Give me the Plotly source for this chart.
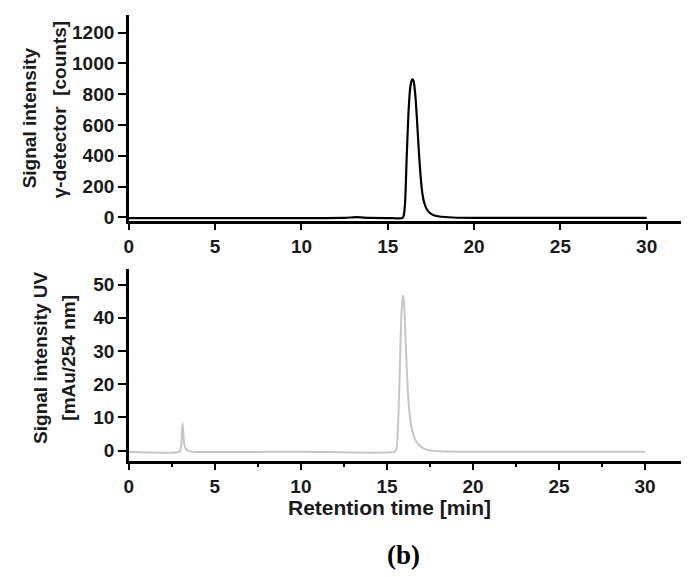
import plotly.graph_objects as go

# ---- data ----
gamma_time = [0, 5, 10, 12.5, 13.2, 13.9, 15.0, 15.85, 15.92, 16.0, 16.1, 16.2, 16.3, 16.4, 16.45,
              16.5, 16.6, 16.7, 16.8, 16.9, 17.0, 17.1, 17.25, 17.45, 17.7, 18.0, 18.5, 19.0, 20, 25, 30]
gamma_counts = [-4, -4, -4, -3, 2, -3, -4, -4, 10, 90, 400, 680, 840, 893, 896,
                885, 790, 620, 430, 270, 160, 100, 55, 28, 13, 6, 1, -2, -3, -3, -3]

uv_time = [0, 2.95, 3.03, 3.08, 3.12, 3.17, 3.22, 3.3, 3.45, 3.7, 10, 15.45, 15.55, 15.65, 15.75,
           15.85, 15.93, 16.0, 16.1, 16.2, 16.3, 16.45, 16.65, 16.9, 17.3, 18, 25, 30]
uv_mau = [-0.3, -0.3, 1.0, 5.0, 8.3, 5.0, 2.0, 0.6, 0.0, -0.3, -0.3, -0.3, 0.5, 8, 25,
          42, 46.7, 44, 31, 19, 12, 6.5, 3.2, 1.5, 0.3, -0.2, -0.3, -0.3]

x_ticks = [0, 5, 10, 15, 20, 25, 30]
gamma_ticks = [0, 200, 400, 600, 800, 1000, 1200]
uv_ticks = [0, 10, 20, 30, 40, 50]

W, H = 689, 577
def px(x):
    return x / W
def py(y):
    return 1 - y / H

FONT = "Liberation Sans, Arial, sans-serif"
TXT = "#1a1a1a"

fig = go.Figure()
fig.add_trace(go.Scatter(x=gamma_time, y=gamma_counts, mode="lines",
                         line=dict(color="#000000", width=2.2, shape="spline", smoothing=0.6),
                         xaxis="x", yaxis="y", showlegend=False))
fig.add_trace(go.Scatter(x=uv_time, y=uv_mau, mode="lines",
                         line=dict(color="#c6c6c6", width=2, shape="spline", smoothing=0.6),
                         xaxis="x2", yaxis="y2", showlegend=False))

tickfont = dict(family=FONT, size=19, color=TXT, weight="bold")
common = dict(showgrid=False, zeroline=False, showline=True, linecolor="#000000", linewidth=2.5,
              ticks="outside", tickwidth=2, tickcolor="#000000", tickfont=tickfont, mirror=False)

fig.update_layout(
    width=W, height=H,
    margin=dict(l=0, r=0, t=0, b=0),
    paper_bgcolor="white", plot_bgcolor="white",
    xaxis=dict(domain=[px(116.7), px(683)], anchor="y", range=[0, 32.57],
               tickvals=x_ticks, ticklen=7, **common),
    yaxis=dict(domain=[py(215.5), py(7)], anchor="x", range=[-20, 1315],
               tickvals=gamma_ticks, ticklen=8, **common),
    xaxis2=dict(domain=[px(116.7), px(680)], anchor="y2", range=[0, 32.5],
                tickvals=x_ticks, ticklen=7,
                minor=dict(dtick=2.5, tick0=0, ticks="outside", ticklen=4, tickwidth=2, tickcolor="#000000"),
                **common),
    yaxis2=dict(domain=[py(459), py(265)], anchor="x2", range=[-3, 54.6],
                tickvals=uv_ticks, ticklen=8, **common),
)

title_font = dict(family=FONT, size=19, color=TXT, weight="bold")
annots = [
    ("Signal intensity", 17, 111),
    ("\u03b3-detector  [counts]", 47, 103),
    ("Signal intensity UV", 27, 355),
    ("[mAu/254 nm]", 55, 355),
]
for text, x, y in annots:
    fig.add_annotation(text=text, xref="paper", yref="paper", x=px(x), y=py(y),
                       xanchor="center", yanchor="middle", textangle=-90, showarrow=False,
                       font=title_font)

fig.add_annotation(text="Retention time [min]", xref="paper", yref="paper", x=px(379), y=py(507),
                   xanchor="center", yanchor="middle", showarrow=False,
                   font=dict(family=FONT, size=21, color=TXT, weight="bold"))
fig.add_annotation(text="(b)", xref="paper", yref="paper", x=px(393), y=py(555),
                   xanchor="center", yanchor="middle", showarrow=False,
                   font=dict(family="Liberation Serif, Times New Roman, serif", size=27, color="#000000",
                             weight="bold"))

fig.write_html("out.html")
